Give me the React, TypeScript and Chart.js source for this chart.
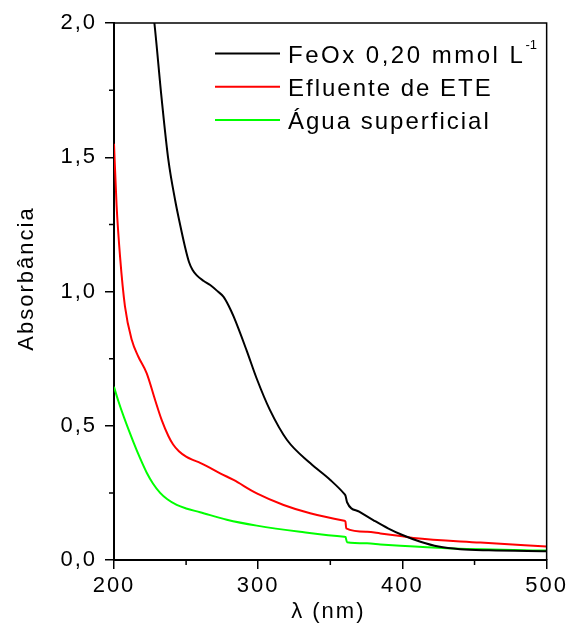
import React, { useEffect, useRef } from 'react';
import { Chart, registerables } from 'chart.js';

Chart.register(...registerables);

const xMin = 200;
const xMax = 500;
const xStep = 100;
const xMinorTicks = [250, 350, 450];
const yMin = 0;
const yMax = 2;
const yStep = 0.5;
const yMinorTicks = [0.25, 0.75, 1.25, 1.75];

const xTitle = 'λ (nm)';
const yTitle = 'Absorbância';

const seriesLabels = ['FeOx 0,20 mmol L', 'Efluente de ETE', 'Água superficial'];
const seriesSuperscripts = ['-1', '', ''];
const seriesColors = ['#000000', '#ff0000', '#00ff00'];

const feoxWavelength = [225, 228, 233, 237.7, 242.4, 246, 249.3, 252, 254.5, 257.4, 262, 266.7, 272, 276, 279.5, 283, 292, 299, 308, 320, 336, 350, 359.7, 360.5, 361.6, 370, 380, 390, 400, 412.5, 425, 440, 460, 500];
const feoxAbs = [2.13, 2.0, 1.72, 1.49, 1.34, 1.245, 1.165, 1.11, 1.08, 1.06, 1.04, 1.024, 1.0, 0.98, 0.947, 0.906, 0.78, 0.675, 0.56, 0.447, 0.361, 0.298, 0.246, 0.24, 0.215, 0.18, 0.148, 0.118, 0.093, 0.068, 0.05, 0.04, 0.036, 0.033];

const efluenteWavelength = [200, 201.8, 204.2, 207.6, 212.3, 216.9, 222.7, 228.5, 233.1, 237.7, 241, 245, 250, 255, 259.7, 266, 273.6, 282.9, 299, 317.6, 336, 359.7, 360.5, 361, 375.5, 384.7, 398.6, 407.6, 454, 500];
const efluenteAbs = [1.55, 1.32, 1.13, 0.945, 0.82, 0.757, 0.695, 0.596, 0.521, 0.462, 0.43, 0.405, 0.385, 0.372, 0.362, 0.345, 0.323, 0.298, 0.248, 0.205, 0.174, 0.146, 0.143, 0.118, 0.105, 0.099, 0.089, 0.082, 0.065, 0.05];

const aguaWavelength = [200, 203, 207, 213.4, 218, 222.7, 227, 232, 237, 243.5, 250, 259.7, 278.2, 299, 329, 359.7, 360.5, 361.6, 375.5, 384.7, 398.6, 431, 500];
const aguaAbs = [0.645, 0.592, 0.53, 0.44, 0.38, 0.325, 0.285, 0.25, 0.226, 0.205, 0.192, 0.178, 0.15, 0.128, 0.105, 0.087, 0.086, 0.066, 0.062, 0.058, 0.053, 0.044, 0.035];

const FONT = "'Liberation Sans', Arial, sans-serif";

const toPoints = (xs: number[], ys: number[]) => xs.map((x, i) => ({ x, y: ys[i] }));

const decorPlugin = {
  id: 'decor',
  beforeDraw(chart: any) {
    chart.ctx.letterSpacing = '2px';
  },
  afterDraw(chart: any) {
    const { ctx, chartArea: a, scales } = chart;
    ctx.save();
    ctx.letterSpacing = '2px';
    ctx.strokeStyle = '#000';
    ctx.lineWidth = 1.5;
    // frame top and right
    ctx.beginPath();
    ctx.moveTo(a.left, a.top);
    ctx.lineTo(a.right, a.top);
    ctx.lineTo(a.right, a.bottom);
    ctx.stroke();
    // minor ticks
    ctx.beginPath();
    xMinorTicks.forEach((v) => {
      const x = scales.x.getPixelForValue(v);
      ctx.moveTo(x, a.bottom);
      ctx.lineTo(x, a.bottom + 5);
    });
    yMinorTicks.forEach((v) => {
      const y = scales.y.getPixelForValue(v);
      ctx.moveTo(a.left, y);
      ctx.lineTo(a.left - 5, y);
    });
    ctx.stroke();

    // legend
    const lx0 = a.left + 101;
    const lx1 = a.left + 166;
    const tx = a.left + 174;
    const rowY0 = a.top + 30.5;
    const rowGap = 33.3;
    seriesLabels.forEach((label, i) => {
      const cy = rowY0 + i * rowGap;
      ctx.strokeStyle = seriesColors[i];
      ctx.lineWidth = 2;
      ctx.beginPath();
      ctx.moveTo(lx0, cy);
      ctx.lineTo(lx1, cy);
      ctx.stroke();
      ctx.fillStyle = '#000';
      ctx.font = `24px ${FONT}`;
      ctx.letterSpacing = i === 0 ? '2.5px' : '2px';
      ctx.textAlign = 'left';
      ctx.textBaseline = 'alphabetic';
      ctx.fillText(label, tx, cy + 9);
      if (seriesSuperscripts[i]) {
        const w = ctx.measureText(label).width;
        ctx.font = `13px ${FONT}`;
        ctx.letterSpacing = '0px';
        ctx.fillText(seriesSuperscripts[i], tx + w, cy - 5);
      }
      ctx.letterSpacing = '2px';
    });

    // axis titles
    ctx.fillStyle = '#000';
    ctx.font = `22px ${FONT}`;
    ctx.textAlign = 'center';
    ctx.textBaseline = 'alphabetic';
    ctx.fillText(xTitle, (a.left + a.right) / 2 - 2, a.bottom + 58);
    ctx.save();
    ctx.translate(32.5, (a.top + a.bottom) / 2 - 13);
    ctx.rotate(-Math.PI / 2);
    ctx.fillText(yTitle, 0, 0);
    ctx.restore();
    ctx.restore();
  },
};

export default function App() {
  const canvasRef = useRef<HTMLCanvasElement | null>(null);

  useEffect(() => {
    if (!canvasRef.current) return;
    const chart = new Chart(canvasRef.current, {
      type: 'line',
      data: {
        datasets: [
          { label: seriesLabels[0], data: toPoints(feoxWavelength, feoxAbs), borderColor: seriesColors[0] },
          { label: seriesLabels[1], data: toPoints(efluenteWavelength, efluenteAbs), borderColor: seriesColors[1] },
          { label: seriesLabels[2], data: toPoints(aguaWavelength, aguaAbs), borderColor: seriesColors[2] },
        ].map((d) => ({
          ...d,
          borderWidth: 2,
          pointRadius: 0,
          fill: false,
          cubicInterpolationMode: 'monotone' as const,
        })),
      },
      options: {
        animation: false,
        responsive: false,
        maintainAspectRatio: false,
        events: [],
        layout: { padding: { top: 23, right: 22, left: 0, bottom: 0 } },
        plugins: { legend: { display: false }, tooltip: { enabled: false }, title: { display: false } },
        scales: {
          x: {
            type: 'linear',
            min: xMin,
            max: xMax,
            afterFit: (s: any) => {
              s.height = 75;
            },
            ticks: {
              stepSize: xStep,
              autoSkip: false,
              color: '#000',
              padding: 4,
              maxRotation: 0,
              font: { family: FONT, size: 22 },
            },
            grid: { drawOnChartArea: false, drawTicks: true, tickLength: 9, color: '#000', lineWidth: 1.5 },
            border: { display: true, color: '#000', width: 2 },
          },
          y: {
            type: 'linear',
            min: yMin,
            max: yMax,
            afterFit: (s: any) => {
              s.width = 114;
            },
            ticks: {
              stepSize: yStep,
              autoSkip: false,
              color: '#000',
              padding: 8,
              font: { family: FONT, size: 22 },
              callback: (v: any) => Number(v).toFixed(1).replace('.', ','),
            },
            grid: { drawOnChartArea: false, drawTicks: true, tickLength: 9, color: '#000', lineWidth: 1.5 },
            border: { display: true, color: '#000', width: 2 },
          },
        },
      },
      plugins: [decorPlugin],
    });
    return () => chart.destroy();
  }, []);

  return (
    <div style={{ position: 'absolute', left: 0, top: 0, width: 569, height: 635, background: '#fff' }}>
      <canvas ref={canvasRef} width={569} height={635} style={{ width: 569, height: 635, display: 'block' }} />
    </div>
  );
}
